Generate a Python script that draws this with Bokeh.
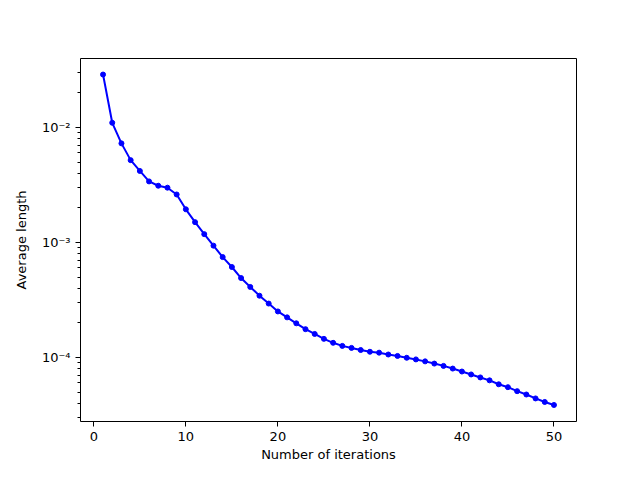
from bokeh.plotting import figure
from bokeh.models import Range1d, FixedTicker, CustomJSTickFormatter
from bokeh.embed import file_html
from bokeh.resources import INLINE

iterations = list(range(1, 51))
avg_length = [
    0.0288, 0.01096, 0.00726, 0.00519, 0.00418, 0.00339, 0.00311, 0.00299, 0.00261, 0.00194,
    0.00150, 0.00118, 0.000937, 0.000745, 0.000611, 0.000490, 0.000410, 0.000344, 0.000294, 0.000251,
    0.000223, 0.000198, 0.000176, 0.000160, 0.000145, 0.000134, 0.000126, 0.000121, 0.000116, 0.000112,
    0.000110, 0.000106, 0.000103, 0.0000993, 0.0000961, 0.0000924, 0.0000884, 0.0000844, 0.0000800, 0.0000754,
    0.0000711, 0.0000670, 0.0000632, 0.0000584, 0.0000551, 0.0000509, 0.0000476, 0.0000440, 0.0000410, 0.0000386,
]
x_ticks = [0, 10, 20, 30, 40, 50]
y_ticks = [1e-4, 1e-3, 1e-2]
y_minor = [m * 10.0 ** e for e in (-5, -4, -3, -2) for m in range(2, 10)]

p = figure(width=624, height=464, output_backend="svg", toolbar_location=None,
           y_axis_type="log",
           x_range=Range1d(-1.45, 52.45), y_range=Range1d(2.773e-5, 0.0397),
           min_border_left=80, min_border_top=58, min_border_right=48, min_border_bottom=37)
p.background_fill_color = "white"
p.border_fill_color = "white"
p.outline_line_color = "black"
p.outline_line_width = 1
p.xgrid.visible = False
p.ygrid.visible = False

p.line(iterations, avg_length, line_color="#0000ff", line_width=2)
p.scatter(iterations, avg_length, size=5, fill_color="#0000ff", line_color="#0000ff")

p.xaxis.ticker = FixedTicker(ticks=x_ticks, minor_ticks=[])
p.yaxis.ticker = FixedTicker(ticks=y_ticks, minor_ticks=y_minor)
p.yaxis.formatter = CustomJSTickFormatter(code="""
const e = Math.round(Math.log10(tick));
const sup = {'-':'\u207b','0':'\u2070','1':'\u00b9','2':'\u00b2','3':'\u00b3','4':'\u2074','5':'\u2075','6':'\u2076','7':'\u2077','8':'\u2078','9':'\u2079'};
return '10' + String(e).split('').map(c => sup[c]).join('');
""")

for ax in (p.xaxis[0], p.yaxis[0]):
    ax.axis_line_color = None
    ax.major_tick_line_color = "black"
    ax.minor_tick_line_color = "black"
    ax.major_tick_out = 5
    ax.major_tick_in = 0
    ax.minor_tick_out = 3
    ax.minor_tick_in = 0
    ax.major_label_text_font = "DejaVu Sans"
    ax.major_label_text_font_size = "13px"
    ax.major_label_text_color = "black"
    ax.axis_label_text_font = "DejaVu Sans"
    ax.axis_label_text_font_size = "13px"
    ax.axis_label_text_font_style = "normal"
    ax.axis_label_text_color = "black"

p.xaxis.axis_label = "Number of iterations"
p.yaxis.axis_label = "Average length"
p.xaxis.major_label_standoff = 5
p.yaxis.major_label_standoff = 5
p.xaxis.axis_label_standoff = 3
p.yaxis.axis_label_standoff = 10

open("out.html", "w").write(file_html(p, INLINE))
